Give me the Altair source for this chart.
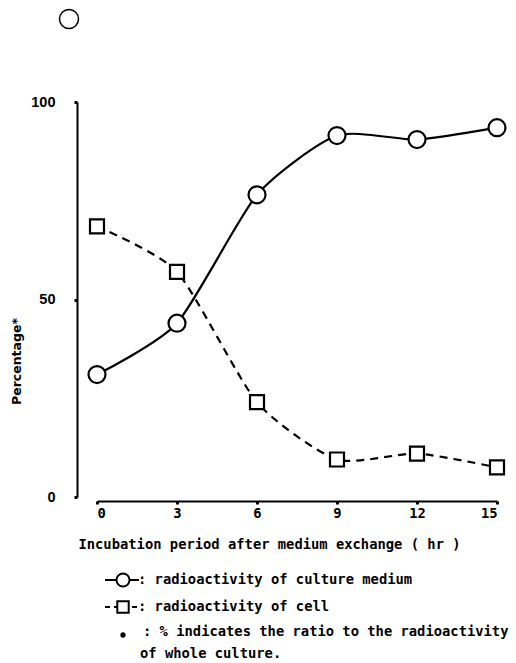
import altair as alt
import pandas as pd

hours = [0, 3, 6, 9, 12, 15]
medium = [31, 44, 76.5, 91.5, 90.5, 93.5]
cell = [68.5, 57, 24, 9.5, 11, 7.5]
x_ticks = [0, 3, 6, 9, 12, 15]
y_ticks = [0, 50, 100]
x_title = "Incubation period after medium exchange ( hr )"
y_title = "Percentage*"
legend_medium = ": radioactivity of culture medium"
legend_cell = ": radioactivity of cell"
note_line1 = ": % indicates the ratio to the radioactivity"
note_line2 = "of whole culture."

MONO = "DejaVu Sans Mono"

df_m = pd.DataFrame({"hr": hours, "pct": medium})
df_c = pd.DataFrame({"hr": hours, "pct": cell})
one = pd.DataFrame({"a": [0]})

xscale = alt.Scale(domain=[0, 15], nice=False, zero=False)
yscale = alt.Scale(domain=[0, 100], nice=False)

xaxis = alt.Axis(
    values=x_ticks, title=x_title, offset=4, grid=False,
    domainColor="black", domainWidth=2, tickColor="black", tickSize=3, tickWidth=3,
    labelFont=MONO, labelFontWeight="bold", labelFontSize=13.8, labelColor="black",
    labelPadding=2, labelAngle=0,
    titleFont=MONO, titleFontWeight="bold", titleFontSize=13.8, titleColor="black",
    titleX=172, titleY=43, titleAnchor="middle", titleAlign="center", titleBaseline="middle",
)
yaxis = alt.Axis(
    values=y_ticks, title=y_title, offset=20, grid=False,
    domainColor="black", domainWidth=2, tickColor="black", tickSize=3, tickWidth=3,
    labelFont="Liberation Sans", labelFontWeight="bold", labelFontSize=14.5, labelColor="black",
    labelPadding=19,
    titleFont="DejaVu Sans", titleFontWeight="bold", titleFontSize=12.5, titleColor="black",
    titleAngle=270, titleX=-61, titleY=259, titleAlign="center", titleBaseline="middle",
)

base_m = alt.Chart(df_m).encode(
    x=alt.X("hr:Q", scale=xscale, axis=xaxis),
    y=alt.Y("pct:Q", scale=yscale, axis=yaxis),
)
base_c = alt.Chart(df_c).encode(
    x=alt.X("hr:Q", scale=xscale),
    y=alt.Y("pct:Q", scale=yscale),
)

line_m = base_m.mark_line(color="black", strokeWidth=2.2, interpolate="cardinal", tension=0.35)
line_c = base_c.mark_line(color="black", strokeWidth=2.2, strokeDash=[8, 6],
                          interpolate="cardinal", tension=0.35)
pts_m = base_m.mark_point(shape="circle", size=289, filled=False, fill="white", fillOpacity=1,
                          color="black", strokeWidth=2.2, opacity=1)
pts_c = base_c.mark_point(shape="square", size=196, filled=False, fill="white", fillOpacity=1,
                          color="black", strokeWidth=2.2, opacity=1)

# stray circle at top-left of the figure
stray = alt.Chart(one).mark_point(shape="circle", size=361, filled=False, color="black",
                                   strokeWidth=1.5, opacity=1).encode(
    x=alt.value(-28), y=alt.value(-83))

# legend / note area below the plot
leg_rule1 = alt.Chart(one).mark_rule(color="black", strokeWidth=2).encode(
    x=alt.value(8), x2=alt.value(42), y=alt.value(478))
leg_pt1 = alt.Chart(one).mark_point(shape="circle", size=170, filled=False, fill="white",
                                     fillOpacity=1, color="black", strokeWidth=2, opacity=1).encode(
    x=alt.value(26), y=alt.value(478))
leg_rule2 = alt.Chart(one).mark_rule(color="black", strokeWidth=2, strokeDash=[5, 4]).encode(
    x=alt.value(8), x2=alt.value(44), y=alt.value(505))
leg_pt2 = alt.Chart(one).mark_point(shape="square", size=130, filled=False, fill="white",
                                     fillOpacity=1, color="black", strokeWidth=2, opacity=1).encode(
    x=alt.value(26), y=alt.value(505))
leg_dot = alt.Chart(one).mark_point(shape="circle", size=28, filled=True, color="black",
                                     opacity=1).encode(x=alt.value(26), y=alt.value(533))

def txt(s, x, y):
    return alt.Chart(one).mark_text(
        text=s, font=MONO, fontWeight="bold", fontSize=13.8, color="black",
        align="left", baseline="middle").encode(x=alt.value(x), y=alt.value(y))

texts = (txt(legend_medium, 41, 478) + txt(legend_cell, 41, 505)
         + txt(note_line1, 46, 530) + txt(note_line2, 43, 552))

chart = alt.layer(
    line_m, line_c, pts_m, pts_c, stray,
    leg_rule1, leg_pt1, leg_rule2, leg_pt2, leg_dot, texts,
).properties(
    width=400, height=395,
    autosize=alt.AutoSizeParams(type="none"),
    padding={"left": 97, "top": 102, "right": 19, "bottom": 166},
    background="white",
).configure_view(stroke=None)

chart.save("out.html", embed_options={"renderer": "svg", "actions": False})
